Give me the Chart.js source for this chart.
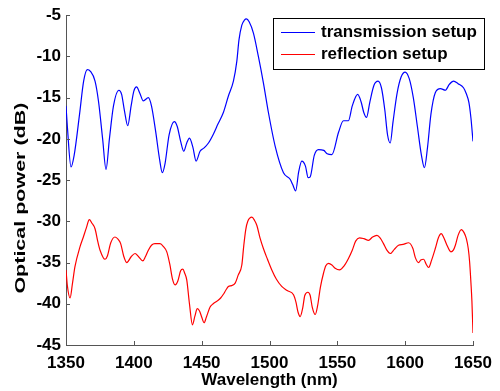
<!DOCTYPE html>
<html>
<head>
<meta charset="utf-8">
<script src="https://cdn.jsdelivr.net/npm/chart.js@4"></script>
<style>
  html, body { margin: 0; padding: 0; background: #fff; }
  #wrap { width: 500px; height: 391px; position: relative; }
</style>
</head>
<body>
<div id="wrap"><canvas id="spec"></canvas></div>
<script>
// transmission measurement (blue)
const transWl = [1350, 1351, 1353.7, 1356, 1360, 1363, 1365.7, 1368, 1371.4, 1374, 1377, 1379.5, 1382, 1385, 1389, 1391, 1393, 1395.5, 1398, 1400, 1402, 1404.5, 1407, 1410.7, 1413, 1416, 1419, 1421, 1423, 1426, 1429.9, 1432, 1434.5, 1436.8, 1439, 1441, 1443.5, 1445.9, 1448.8, 1451.8, 1455, 1458.7, 1462, 1466, 1469.7, 1473.4, 1475.9, 1477.5, 1479.6, 1481.5, 1483, 1485, 1488.2, 1491.8, 1495.5, 1499.2, 1504.2, 1510.3, 1515.2, 1517, 1519.3, 1521.5, 1523.8, 1526.5, 1528.5, 1530, 1533, 1536.1, 1540, 1542.5, 1546, 1550.9, 1554.5, 1558.2, 1561, 1565, 1567.5, 1569.5, 1571.5, 1574, 1577, 1580, 1582.5, 1585, 1587, 1589, 1591, 1594, 1597, 1600, 1603, 1606, 1609, 1612, 1614.2, 1616.5, 1619, 1622.2, 1626, 1629.6, 1632.5, 1635.7, 1639, 1643, 1645, 1647, 1648.5, 1650];
const transDb = [-16.0, -18.5, -23.4, -22, -17, -13, -11.6, -11.8, -13.0, -15.5, -20, -23.7, -20, -16, -14.1, -14.6, -16.5, -18.4, -16, -14.2, -13.7, -14.5, -15.4, -15.0, -16, -19, -22.5, -24.1, -23, -19.5, -17.9, -18.5, -20.3, -21.5, -20.5, -19.9, -21, -22.7, -21.5, -21.1, -20.5, -19.4, -18.2, -16.8, -14.8, -13.0, -10.6, -8.0, -6.2, -5.6, -5.45, -5.8, -7.2, -10.0, -13.2, -16.8, -20.9, -24.1, -24.9, -25.5, -26.3, -24, -22.7, -23.3, -24.7, -24.6, -22, -21.3, -21.4, -21.8, -21.9, -19.2, -17.8, -17.8, -16, -14.6, -15.5, -16.8, -17.4, -15.5, -13.5, -13.0, -13.8, -16.5, -19.5, -20.5, -18, -14.5, -12.5, -11.9, -12.7, -15, -18.5, -22, -23.5, -21, -17, -14.4, -13.9, -14.1, -13.4, -13.0, -13.3, -13.8, -14.5, -15.6, -17.5, -20.3];

// reflection measurement (red)
const reflWl = [1350, 1351, 1353, 1354.8, 1356.6, 1360.3, 1362.8, 1365, 1367.2, 1369, 1371.4, 1373.5, 1375.1, 1378.8, 1380.5, 1383, 1386.1, 1388.5, 1390.3, 1392.5, 1394.8, 1398, 1400.9, 1403.5, 1406.6, 1408.5, 1410.7, 1413, 1415.6, 1419.3, 1422, 1424.3, 1426.5, 1428.5, 1430.4, 1432.5, 1434.5, 1436.1, 1437.5, 1439, 1441, 1443.2, 1445, 1446.8, 1448.5, 1450, 1451.8, 1453.5, 1456.2, 1458.5, 1461.1, 1464, 1466, 1468, 1469.7, 1472, 1474.7, 1477, 1479.6, 1481, 1482.5, 1484, 1487, 1489, 1490.7, 1493, 1495.5, 1498.5, 1501.7, 1505, 1509, 1513, 1517.7, 1519.5, 1521, 1522.6, 1524.5, 1526, 1528.3, 1530, 1531.5, 1533.7, 1535.5, 1537.5, 1539.8, 1541.5, 1543.6, 1546, 1548.4, 1551.6, 1555, 1558.2, 1561, 1563.5, 1566.3, 1569.5, 1573, 1576, 1579.2, 1581.5, 1584, 1586.5, 1589, 1592, 1595.1, 1598.5, 1602.5, 1605.7, 1607.5, 1609.9, 1611.5, 1613.6, 1615.5, 1617.3, 1619.5, 1622.2, 1624.5, 1626.6, 1628.5, 1630.8, 1633.7, 1635.5, 1637, 1639, 1641.4, 1643.5, 1645.1, 1646.5, 1647.5, 1648.5, 1649.2, 1650];
const reflDb = [-35.9, -37.8, -39.3, -37.5, -35.5, -33.1, -31.9, -30.8, -29.8, -30.2, -30.9, -32.5, -33.5, -34.6, -34.2, -32.6, -31.9, -32.2, -32.7, -34.2, -35.0, -34.3, -33.9, -34.3, -34.8, -34.3, -33.5, -32.9, -32.7, -32.7, -33.1, -33.7, -35.2, -37.0, -37.7, -37.2, -36.0, -35.8, -36.3, -37.1, -40.0, -42.55, -41.5, -40.6, -40.9, -41.6, -42.3, -41.6, -40.4, -40.0, -39.7, -39.3, -38.85, -38.3, -37.9, -37.8, -37.5, -36.5, -35.3, -33.0, -31.0, -30.0, -29.5, -29.9, -30.5, -32.0, -33.3, -34.6, -35.9, -37.0, -37.9, -38.4, -38.9, -39.8, -41.0, -41.55, -40.5, -39.0, -38.6, -39.0, -40.4, -41.3, -40.2, -38.0, -36.3, -35.4, -35.1, -35.3, -35.7, -35.9, -35.4, -34.5, -33.5, -32.4, -32.0, -32.1, -32.3, -31.9, -31.7, -32.0, -32.7, -33.5, -33.9, -33.4, -32.9, -32.8, -32.6, -33.3, -34.4, -35.0, -34.7, -34.6, -35.2, -35.6, -34.7, -33.3, -32.0, -31.5, -32.0, -32.9, -33.7, -33.5, -32.9, -31.7, -31.0, -31.4, -32.1, -33.3, -34.9, -37.5, -39.7, -43.55];

const seriesNames = ['transmission setup', 'reflection setup'];
const seriesColors = ['#0000ff', '#ff0000'];
const xTitle = 'Wavelength (nm)';
const yTitle = 'Optical power (dB)';

const FONT = '"Liberation Sans", Arial, sans-serif';
Chart.defaults.font.family = FONT;
Chart.defaults.color = '#000';

function pts(xs, ys) {
  return xs.map((x, i) => ({ x: x, y: ys[i] }));
}

// matlab-ish axes: inward ticks, stretched y label, boxed legend
const axesDecor = {
  id: 'axesDecor',
  afterDraw(chart) {
    const ctx = chart.ctx;
    const area = chart.chartArea;
    const xs = chart.scales.x, ys = chart.scales.y;
    ctx.save();
    ctx.strokeStyle = '#555';
    ctx.lineWidth = 1;
    ctx.beginPath();
    xs.ticks.forEach(t => {
      const px = Math.round(xs.getPixelForValue(t.value)) + 0.5;
      ctx.moveTo(px, area.bottom);
      ctx.lineTo(px, area.bottom - 4);
    });
    ys.ticks.forEach(t => {
      const py = Math.round(ys.getPixelForValue(t.value)) + 0.5;
      ctx.moveTo(area.left, py);
      ctx.lineTo(area.left + 4, py);
    });
    ctx.stroke();

    // y label
    ctx.fillStyle = '#000';
    ctx.font = 'bold 14px ' + FONT;
    ctx.textAlign = 'center';
    ctx.textBaseline = 'middle';
    const w = ctx.measureText(yTitle).width;
    ctx.translate(21.5, (area.top + area.bottom) / 2 + 18);
    ctx.rotate(-Math.PI / 2);
    ctx.scale(191 / w, 1);
    ctx.fillText(yTitle, 0, 0);
    ctx.restore();

    // legend
    ctx.save();
    const bx = 273.5, by = 18.5, bw = 211, bh = 51;
    ctx.fillStyle = '#fff';
    ctx.fillRect(bx, by, bw, bh);
    ctx.strokeStyle = '#000';
    ctx.lineWidth = 1;
    ctx.strokeRect(bx, by, bw, bh);
    ctx.font = 'bold 17px ' + FONT;
    ctx.textBaseline = 'middle';
    ctx.textAlign = 'left';
    chart.data.datasets.forEach((ds, i) => {
      const ly = 32.5 + i * 22;
      ctx.strokeStyle = ds.borderColor;
      ctx.beginPath();
      ctx.moveTo(281, ly);
      ctx.lineTo(315, ly);
      ctx.stroke();
      ctx.fillStyle = '#000';
      ctx.fillText(ds.label, 321, ly);
    });
    ctx.restore();
  }
};

new Chart(document.getElementById('spec'), {
  type: 'line',
  data: {
    datasets: [
      { label: seriesNames[0], data: pts(transWl, transDb), borderColor: seriesColors[0], borderWidth: 1.2, pointRadius: 0, cubicInterpolationMode: 'monotone', fill: false },
      { label: seriesNames[1], data: pts(reflWl, reflDb), borderColor: seriesColors[1], borderWidth: 1.2, pointRadius: 0, cubicInterpolationMode: 'monotone', fill: false }
    ]
  },
  options: {
    responsive: true,
    maintainAspectRatio: false,
    animation: false,
    layout: { padding: { left: 0, right: 27, top: 13, bottom: 0 } },
    plugins: { legend: { display: false }, tooltip: { enabled: false } },
    scales: {
      x: {
        type: 'linear', min: 1350, max: 1650,
        ticks: { stepSize: 50, font: { size: 17, weight: 'bold' }, padding: 8, maxRotation: 0, callback: v => String(v) },
        grid: { display: true, drawOnChartArea: false, drawTicks: false },
        border: { display: true, color: '#555' },
        title: { display: true, text: xTitle, font: { size: 17, weight: 'bold' }, padding: { top: 0, bottom: 0 } },
        afterFit(s) { s.height = 46; }
      },
      y: {
        min: -45, max: -5,
        ticks: { stepSize: 5, font: { size: 17, weight: 'bold' }, padding: 5, callback: v => String(v) },
        grid: { display: true, drawOnChartArea: false, drawTicks: false },
        border: { display: true, color: '#555' },
        afterFit(s) { s.width = 66; }
      }
    }
  },
  plugins: [axesDecor]
});
</script>
</body>
</html>
